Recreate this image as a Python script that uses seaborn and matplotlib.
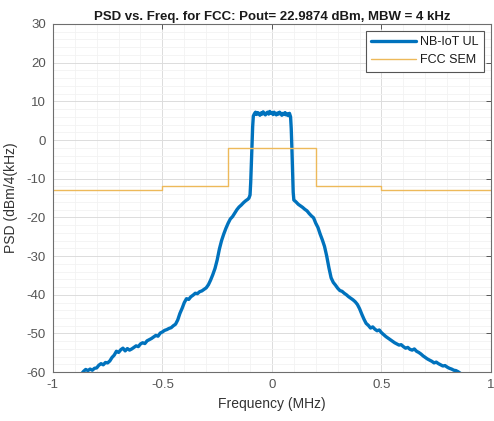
import numpy as np
import pandas as pd
import matplotlib
matplotlib.use("Agg")
import matplotlib.pyplot as plt
import seaborn as sns
from matplotlib.ticker import MultipleLocator

# ---- data ----
freq_mhz = [
    -0.87, -0.86, -0.85, -0.84, -0.83, -0.82, -0.81, -0.80, -0.79, -0.78,
    -0.77, -0.76, -0.75, -0.74, -0.73, -0.72, -0.71, -0.70, -0.69, -0.68,
    -0.67, -0.66, -0.65, -0.64, -0.63, -0.62, -0.61, -0.60, -0.59, -0.58,
    -0.57, -0.56, -0.55, -0.54, -0.53, -0.52, -0.51, -0.50, -0.49, -0.48,
    -0.47, -0.46, -0.45, -0.44, -0.43, -0.42, -0.41, -0.40, -0.39, -0.38,
    -0.37, -0.36, -0.35, -0.34, -0.33, -0.32, -0.31, -0.30, -0.29, -0.28,
    -0.27, -0.26, -0.25, -0.24, -0.23, -0.22, -0.21, -0.20, -0.19, -0.18,
    -0.17, -0.16, -0.15, -0.14, -0.13, -0.12, -0.11, -0.105, -0.100, -0.097,
    -0.094, -0.091, -0.088, -0.085,
    -0.080, -0.075, -0.070, -0.065, -0.060, -0.055, -0.050, -0.045, -0.040, -0.035,
    -0.030, -0.025, -0.020, -0.015, -0.010, -0.005, 0.000, 0.005, 0.010, 0.015,
    0.020, 0.025, 0.030, 0.035, 0.040, 0.045, 0.050, 0.055, 0.060, 0.065,
    0.070, 0.075, 0.080, 0.085,
    0.088, 0.091, 0.094, 0.097, 0.100, 0.11, 0.12, 0.13, 0.14, 0.15,
    0.16, 0.17, 0.18, 0.19, 0.20, 0.21, 0.22, 0.23, 0.24, 0.25,
    0.26, 0.27, 0.28, 0.29, 0.30, 0.31, 0.32, 0.33, 0.34, 0.35,
    0.36, 0.37, 0.38, 0.39, 0.40, 0.41, 0.42, 0.43, 0.44, 0.45,
    0.46, 0.47, 0.48, 0.49, 0.50, 0.51, 0.52, 0.53, 0.54, 0.55,
    0.56, 0.57, 0.58, 0.59, 0.60, 0.61, 0.62, 0.63, 0.64, 0.65,
    0.66, 0.67, 0.68, 0.69, 0.70, 0.71, 0.72, 0.73, 0.74, 0.75,
    0.76, 0.77, 0.78, 0.79, 0.80, 0.81, 0.82, 0.83, 0.84, 0.85,
    0.86, 0.87,
]
psd_dbm = [
    -60.5, -59.8, -59.3, -59.6, -59.2, -59.5, -59.0, -58.9, -58.2, -57.8,
    -58.1, -57.5, -57.6, -57.1, -56.2, -55.6, -54.6, -54.9, -54.2, -53.8,
    -54.5, -53.9, -54.3, -54.0, -53.6, -53.2, -53.4, -52.7, -52.4, -52.6,
    -51.9, -51.6, -51.3, -50.9, -50.5, -50.7, -49.9, -49.6, -49.2, -49.0,
    -48.7, -48.5, -48.0, -47.6, -46.5, -44.8, -43.5, -42.0, -41.0, -41.2,
    -40.5, -40.1, -39.6, -39.7, -39.2, -39.0, -38.6, -38.2, -37.4, -36.2,
    -34.8, -33.2, -31.0, -28.2, -26.0, -24.3, -22.8, -21.5, -20.4, -19.8,
    -18.9, -18.0, -17.3, -16.8, -16.2, -15.7, -15.3, -15.0, -14.2, -11.0,
    -6.0, -1.0, 3.5, 6.2,
    6.8, 7.2, 6.6, 7.1, 6.9, 6.4, 7.0, 6.7, 7.3, 6.8,
    6.5, 7.0, 7.2, 6.7, 7.4, 6.9, 7.1, 6.6, 7.2, 6.8,
    6.5, 7.0, 6.7, 7.2, 6.9, 6.4, 6.9, 6.6, 7.1, 6.5,
    6.8, 6.3, 6.9, 6.0,
    3.0, -2.0, -8.0, -13.5, -15.5, -16.0, -16.6, -17.0, -17.4, -17.9,
    -18.3, -19.0, -19.6, -20.1, -21.5, -22.6, -24.3, -25.8, -27.5, -30.0,
    -33.0, -35.6, -36.8, -37.5, -38.3, -38.9, -39.1, -39.6, -40.0, -40.5,
    -40.9, -41.3, -41.8, -42.5, -43.6, -45.0, -46.3, -47.4, -47.9, -48.6,
    -48.3, -48.9, -49.3, -49.1, -49.8, -50.3, -50.8, -51.2, -51.6, -52.0,
    -52.4, -52.7, -53.0, -52.9, -53.4, -53.8, -53.6, -54.1, -54.3, -54.0,
    -54.6, -54.9, -55.3, -55.8, -56.2, -56.6, -56.9, -57.2, -57.6, -57.4,
    -57.8, -58.1, -58.4, -58.3, -58.7, -59.0, -59.2, -59.5, -59.6, -59.9,
    -60.3, -60.8,
]

sem_freq = [-1.0, -0.5, -0.2, 0.2, 0.5, 1.0]
sem_limit = [-13.0, -12.0, -2.0, -12.0, -13.0, -13.0]

x_ticks = [-1, -0.5, 0, 0.5, 1]
x_tick_labels = ["-1", "-0.5", "0", "0.5", "1"]
y_ticks = [-60, -50, -40, -30, -20, -10, 0, 10, 20, 30]

title_text = "PSD vs. Freq. for FCC: Pout= 22.9874 dBm, MBW = 4 kHz"

# ---- plotting ----
sns.set_style("white")
plt.rcParams["font.family"] = ["Liberation Sans", "DejaVu Sans"]
plt.rcParams["axes.unicode_minus"] = False

df_psd = pd.DataFrame({"Frequency": freq_mhz, "PSD": psd_dbm})
df_sem = pd.DataFrame({"Frequency": sem_freq, "PSD": sem_limit})

fig = plt.figure(figsize=(4.94, 4.21), dpi=100)
ax = fig.add_axes([0.107, 0.116, 0.887, 0.827])

sns.lineplot(data=df_psd, x="Frequency", y="PSD", ax=ax, color="#0072BD",
             linewidth=2.4, label="NB-IoT UL", sort=False, estimator=None)
sns.lineplot(data=df_sem, x="Frequency", y="PSD", ax=ax, color="#EDB95A",
             linewidth=1.0, label="FCC SEM", drawstyle="steps-post",
             sort=False, estimator=None)

ax.set_xlim(-1, 1)
ax.set_ylim(-60, 30)
ax.set_xticks(x_ticks)
ax.set_xticklabels(x_tick_labels)
ax.set_yticks(y_ticks)
ax.xaxis.set_minor_locator(MultipleLocator(0.1))
ax.yaxis.set_minor_locator(MultipleLocator(2))

ax.grid(which="major", color="#dcdcdc", linewidth=0.7)
ax.grid(which="minor", color="#f2f2f2", linewidth=0.6)
ax.set_axisbelow(True)

tick_col = "#555555"
ax.tick_params(which="major", direction="in", length=3.5, width=0.7,
               top=True, right=True, colors=tick_col, labelsize=9.5, pad=5)
ax.tick_params(which="minor", length=0, top=True, right=True)
for s in ax.spines.values():
    s.set_color("#6e6e6e")
    s.set_linewidth(0.8)

ax.set_xlabel("Frequency (MHz)", fontsize=10, color="#333333", labelpad=4)
ax.set_ylabel("PSD (dBm/4(kHz)", fontsize=10, color="#333333", labelpad=6)
ax.set_title(title_text, fontsize=9.5, fontweight="bold", color="#1a1a1a", pad=3)

leg = ax.legend(loc="upper right", fontsize=9, frameon=True, fancybox=False,
                edgecolor="#555555", framealpha=1, borderpad=0.45,
                handlelength=3.6, handletextpad=0.3, labelspacing=0.45,
                borderaxespad=0.55)
leg.get_frame().set_linewidth(0.8)
for t in leg.get_texts():
    t.set_color("#1a1a1a")

fig.savefig("out.png", dpi=100)
